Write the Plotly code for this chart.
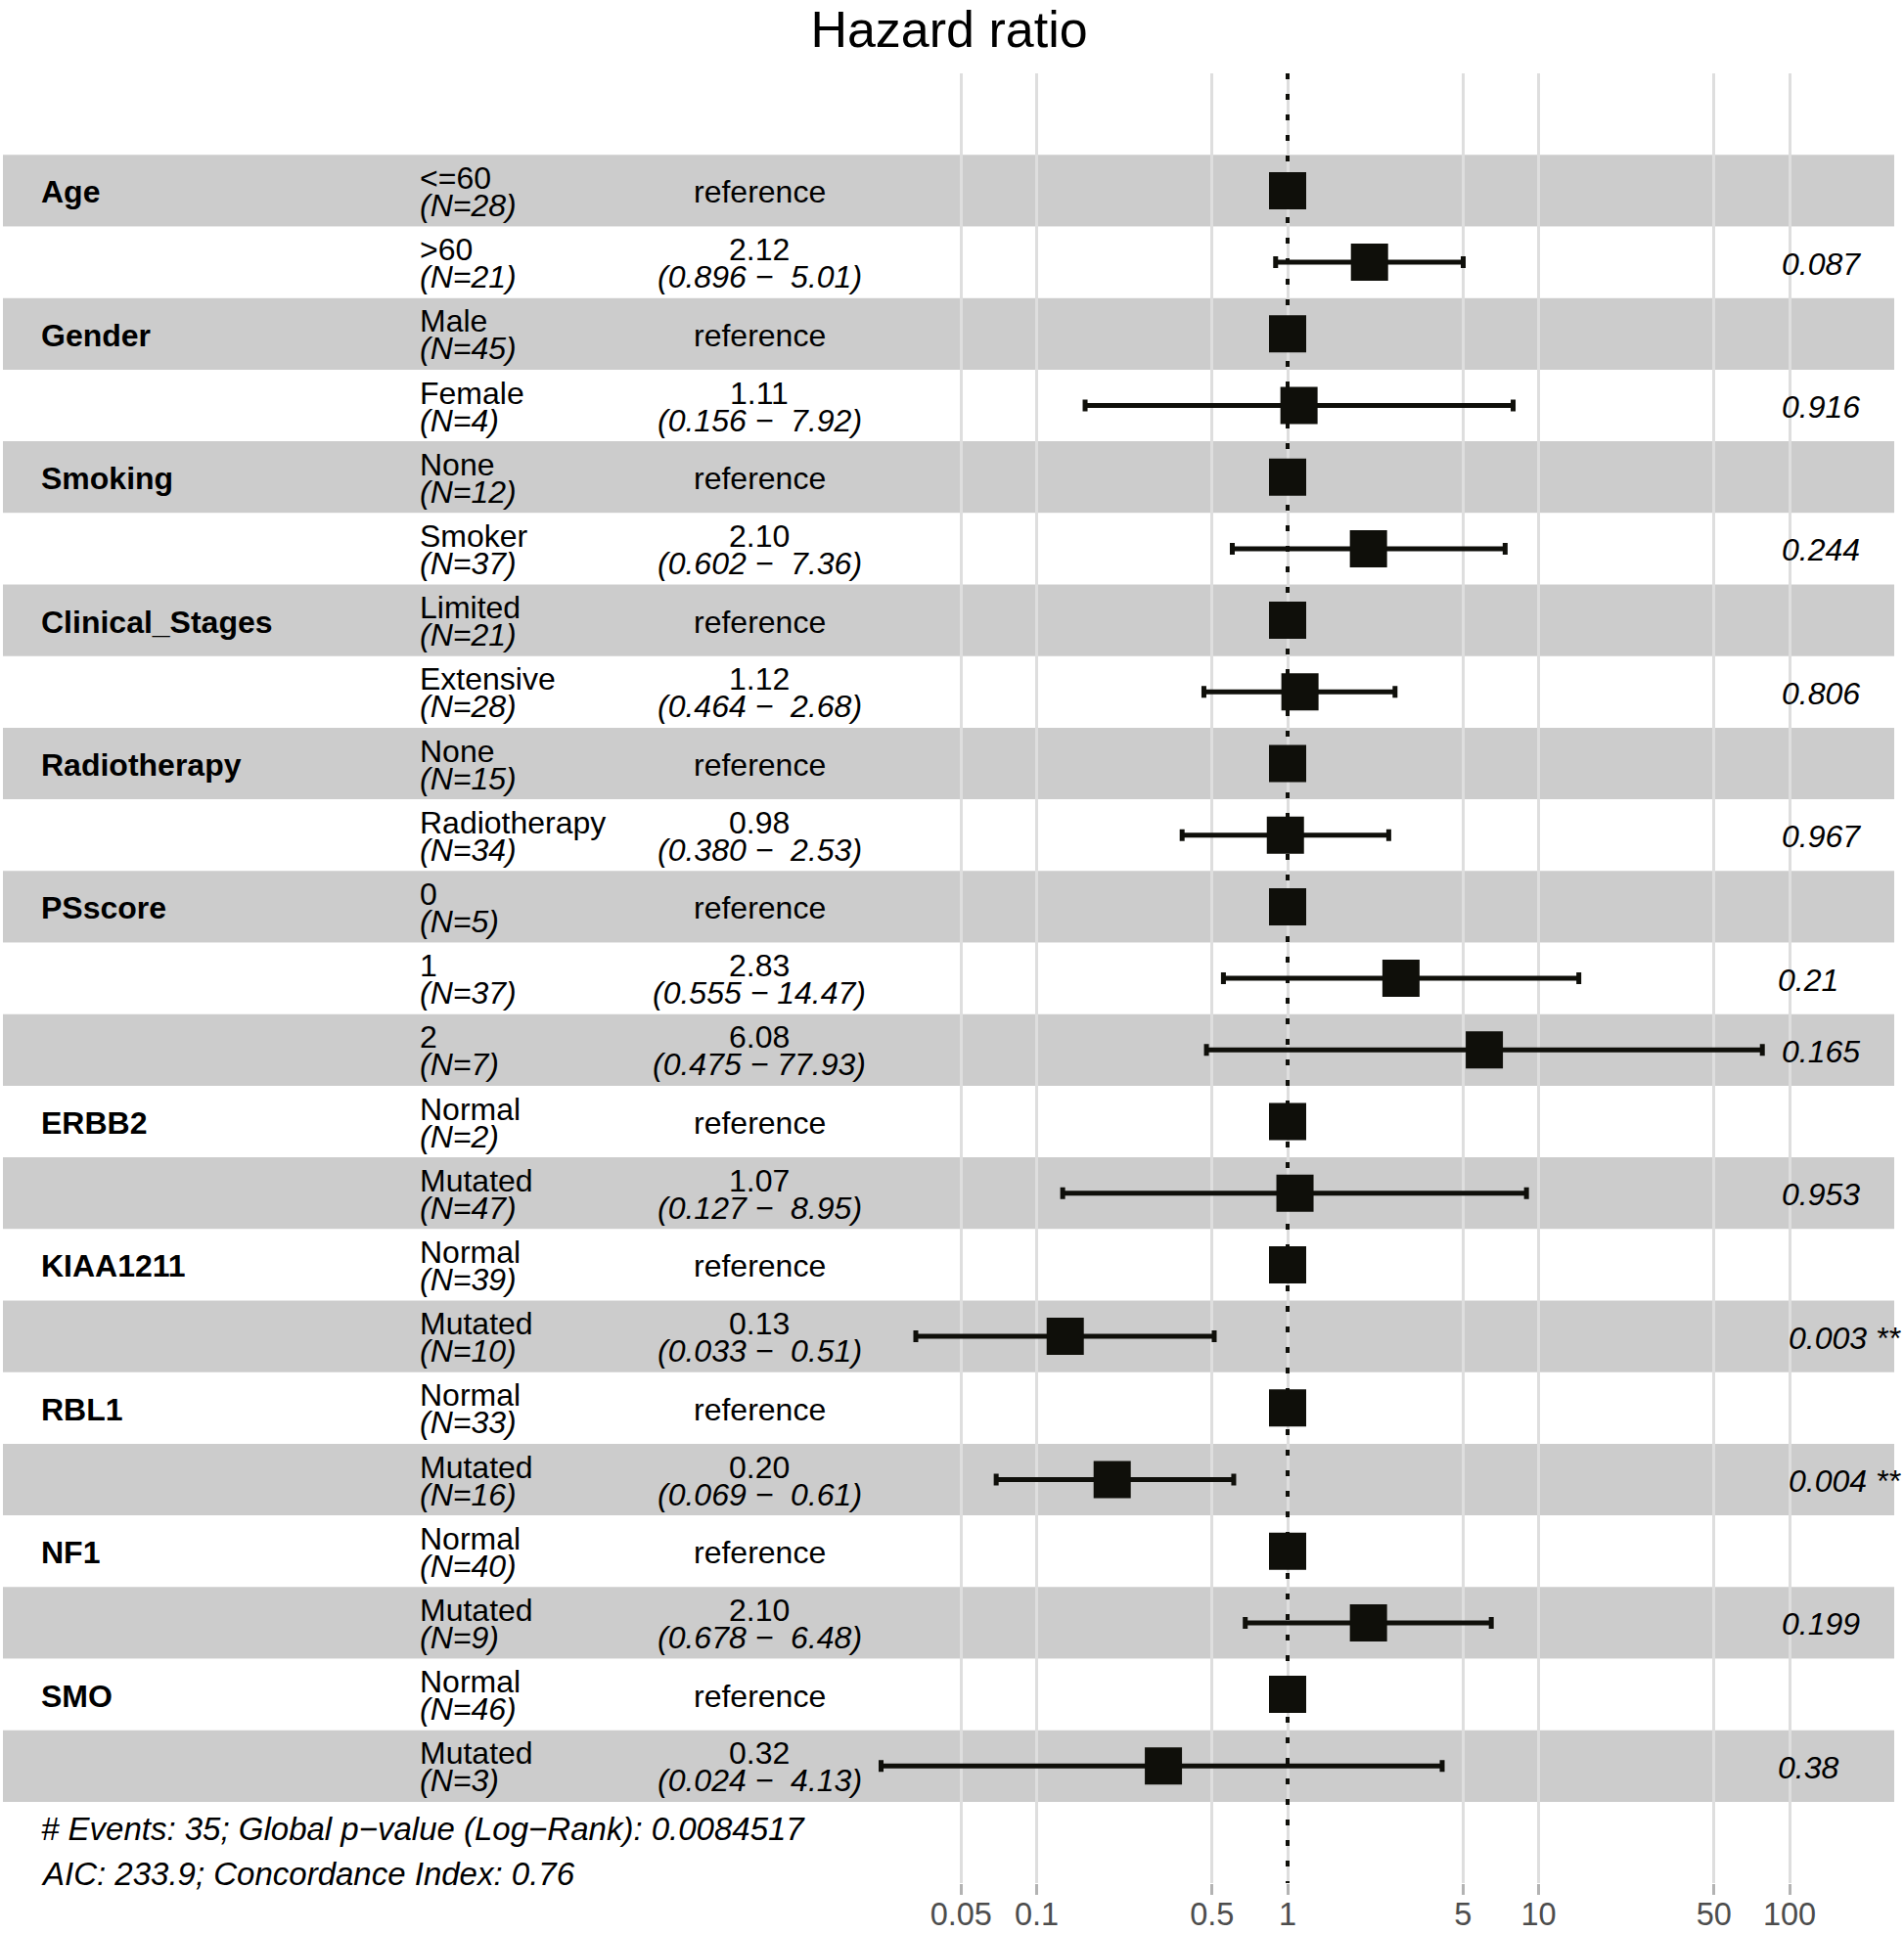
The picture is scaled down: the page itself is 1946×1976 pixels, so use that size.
import plotly.graph_objects as go

# ---------------- data ----------------
row_var = ["Age", "", "Gender", "", "Smoking", "", "Clinical_Stages", "", "Radiotherapy", "",
           "PSscore", "", "", "ERBB2", "", "KIAA1211", "", "RBL1", "", "NF1", "", "SMO", ""]
level = ["<=60", ">60", "Male", "Female", "None", "Smoker", "Limited", "Extensive", "None",
         "Radiotherapy", "0", "1", "2", "Normal", "Mutated", "Normal", "Mutated", "Normal",
         "Mutated", "Normal", "Mutated", "Normal", "Mutated"]
n_obs = [28, 21, 45, 4, 12, 37, 21, 28, 15, 34, 5, 37, 7, 2, 47, 39, 10, 33, 16, 40, 9, 46, 3]
hr = [None, 2.12, None, 1.11, None, 2.10, None, 1.12, None, 0.98, None, 2.83, 6.08, None,
      1.07, None, 0.13, None, 0.20, None, 2.10, None, 0.32]
ci_low = [None, 0.896, None, 0.156, None, 0.602, None, 0.464, None, 0.380, None, 0.555, 0.475,
          None, 0.127, None, 0.033, None, 0.069, None, 0.678, None, 0.024]
ci_high = [None, 5.01, None, 7.92, None, 7.36, None, 2.68, None, 2.53, None, 14.47, 77.93,
           None, 8.95, None, 0.51, None, 0.61, None, 6.48, None, 4.13]
p_value = [None, 0.087, None, 0.916, None, 0.244, None, 0.806, None, 0.967, None, 0.21, 0.165,
           None, 0.953, None, 0.003, None, 0.004, None, 0.199, None, 0.38]
stars = ["", "", "", "", "", "", "", "", "", "", "", "", "", "", "", "", "**", "", "**", "",
         "", "", ""]
tick_vals = [0.05, 0.1, 0.5, 1, 5, 10, 50, 100]
tick_text = ["0.05", "0.1", "0.5", "1", "5", "10", "50", "100"]
footer = ["# Events: 35; Global p\u2212value (Log\u2212Rank): 0.0084517",
          "AIC: 233.9; Concordance Index: 0.76"]
title_text = "Hazard ratio"

# ---------------- layout geometry ----------------
W, H = 1946, 1976
PL, PR, PT, PB = 3, 1936, 75, 1925          # plot area in pixels
ROW0, ROWH = 194.9, 73.2                      # first row centre, row height (px)
FONT = "Liberation Sans, Arial, Helvetica, sans-serif"
FS = 32
BLACK = "#0f0f0a"


def py2y(py):
    return (py - ROW0) / ROWH


def px2paper(px):
    return (px - PL) / (PR - PL)


nrows = len(level)
rows = list(range(nrows))

fig = go.Figure()

# dotted reference line at HR = 1
fig.add_trace(go.Scatter(x=[1, 1], y=[py2y(PT), py2y(PB)], mode="lines",
                         line=dict(color=BLACK, width=4, dash="6px,15px"),
                         hoverinfo="skip", showlegend=False))

# reference squares
ref_rows = [i for i in rows if hr[i] is None]
fig.add_trace(go.Scatter(x=[1] * len(ref_rows), y=ref_rows, mode="markers",
                         marker=dict(symbol="square", size=38, color=BLACK, line=dict(width=0)),
                         showlegend=False))

# estimates with CI
est_rows = [i for i in rows if hr[i] is not None]
fig.add_trace(go.Scatter(
    x=[hr[i] for i in est_rows], y=est_rows, mode="markers",
    marker=dict(symbol="square", size=38, color=BLACK, line=dict(width=0)),
    error_x=dict(type="data", symmetric=False,
                 array=[ci_high[i] - hr[i] for i in est_rows],
                 arrayminus=[hr[i] - ci_low[i] for i in est_rows],
                 color=BLACK, thickness=5, width=6),
    showlegend=False))

shapes = []
for i in rows:
    shapes.append(dict(type="rect", xref="paper", yref="y", x0=0, x1=1,
                       y0=i - 0.5, y1=i + 0.5, layer="between", line=dict(width=0),
                       fillcolor="rgba(0,0,0,0.2)" if i % 2 == 0 else "rgba(255,255,255,0.2)"))

ann = []
DIG = {"0": .556, "1": .556, "2": .556, "3": .556, "4": .556, "5": .556, "6": .556,
       "7": .556, "8": .556, "9": .556, ".": .278, " ": .278, "*": .389}
UP, DOWN = -14.5, 13.5
X_VAR, X_LEV, X_EST, X_P = 39.5, 426.5, 776, 1803
for i in rows:
    rc = i + 1.5 / ROWH
    if row_var[i]:
        ann.append(dict(x=px2paper(X_VAR), y=rc, xref="paper", yref="y",
                        text="<b>%s</b>" % row_var[i],
                        xanchor="left", yanchor="middle", showarrow=False,
                        font=dict(family=FONT, size=FS, color="black")))
    ann.append(dict(x=px2paper(X_LEV), y=rc + UP / ROWH, xref="paper", yref="y", text=level[i],
                    xanchor="left", yanchor="middle", showarrow=False,
                    font=dict(family=FONT, size=FS, color="black")))
    ann.append(dict(x=px2paper(X_LEV), y=rc + DOWN / ROWH, xref="paper", yref="y",
                    text="(N=%d)" % n_obs[i], xanchor="left", yanchor="middle", showarrow=False,
                    font=dict(family=FONT, size=FS, color="black", style="italic")))
    if hr[i] is None:
        ann.append(dict(x=px2paper(X_EST), y=rc, xref="paper", yref="y", text="reference",
                        xanchor="center", yanchor="middle", showarrow=False,
                        font=dict(family=FONT, size=FS, color="black")))
    else:
        ann.append(dict(x=px2paper(X_EST), y=rc + UP / ROWH, xref="paper", yref="y",
                        text="%.2f" % hr[i], xanchor="center", yanchor="middle", showarrow=False,
                        font=dict(family=FONT, size=FS, color="black")))
        ci = "(%.3f \u2212 %s)" % (ci_low[i], ("%5.2f" % ci_high[i]).replace(" ", "\u00a0"))
        ann.append(dict(x=px2paper(X_EST), y=rc + DOWN / ROWH, xref="paper", yref="y",
                        text=ci, xanchor="center", yanchor="middle", showarrow=False,
                        font=dict(family=FONT, size=FS, color="black", style="italic")))
        ptxt = str(p_value[i]) + ((" " + stars[i]) if stars[i] else "")
        wpx = sum(DIG.get(c, .556) for c in ptxt) * FS
        ann.append(dict(x=px2paper(X_P), y=rc, xref="paper", yref="y",
                        text=ptxt.replace(" ", "\u00a0"), xanchor="left", yanchor="middle",
                        xshift=0.2 * wpx, showarrow=False,
                        font=dict(family=FONT, size=FS, color="black", style="italic")))

for k, (txt, py) in enumerate(zip(footer, [1869.5, 1915.5])):
    ann.append(dict(x=px2paper(X_VAR), y=py2y(py), xref="paper", yref="y", text=txt,
                    xanchor="left", yanchor="middle", showarrow=False,
                    font=dict(family=FONT, size=33, color="black", style="italic")))

fig.update_layout(
    width=W, height=H,
    margin=dict(l=PL, r=W - PR, t=PT, b=H - PB, pad=0, autoexpand=False),
    paper_bgcolor="white", plot_bgcolor="white",
    title=dict(text=title_text, x=970 / W, xanchor="center", y=1 - 30 / H, yanchor="middle",
               yref="container", font=dict(family=FONT, size=52, color="black")),
    shapes=shapes, annotations=ann,
    xaxis=dict(type="log", range=[(PL - 1316) / 256.5, (PR - 1316) / 256.5], automargin=False,
               tickvals=tick_vals, ticktext=tick_text, showgrid=True, gridcolor="#dedede",
               gridwidth=2.5, zeroline=False, showline=False, ticks="outside", ticklen=11,
               tickwidth=2.5, tickcolor="#b3b3b3", ticklabelstandoff=-8,
               tickfont=dict(family=FONT, size=32.5, color="#4d4d4d")),
    yaxis=dict(range=[py2y(PB), py2y(PT)], showgrid=False, zeroline=False, showline=False,
               showticklabels=False, ticks="", automargin=False),
)

fig.write_html("out.html", config={"displayModeBar": False},
               post_script="document.body.style.margin='0';document.body.style.overflow='hidden';")
